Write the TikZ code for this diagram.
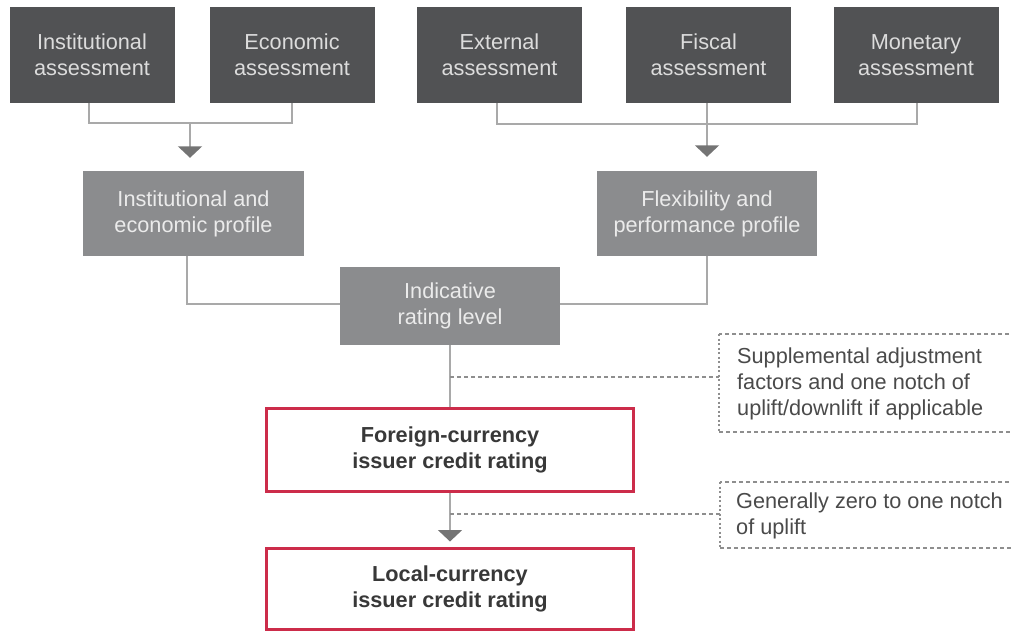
\documentclass[tikz,border=0pt]{standalone}
\usepackage{fontspec}
\setmainfont{Liberation Sans}
\usetikzlibrary{arrows.meta}
\definecolor{darkbox}{HTML}{515254}
\definecolor{midbox}{HTML}{8B8C8E}
\definecolor{darktext}{HTML}{DCDCDC}
\definecolor{midtext}{HTML}{EBEBEB}
\definecolor{connc}{HTML}{A9A9A9}
\definecolor{arrowc}{HTML}{747474}
\definecolor{redc}{HTML}{CC2C4A}
\definecolor{notetext}{HTML}{4A4A4A}
\definecolor{boldtext}{HTML}{383838}
\definecolor{dashc}{HTML}{8E8E8E}
\tikzset{
  txt/.style={font=\fontsize{21.7}{26}\selectfont, align=center, inner sep=0pt},
  darkn/.style={txt, fill=darkbox, text=darktext, minimum width=165pt, minimum height=96pt},
  midn/.style={txt, fill=midbox, text=midtext, minimum height=85pt},
  redn/.style={txt, draw=redc, line width=3pt, fill=white, text=boldtext, font=\fontsize{21.7}{26}\selectfont\bfseries, minimum width=367pt},
  noten/.style={txt, align=left, text=notetext, anchor=west},
  conn/.style={draw=connc, line width=2pt},
  arr/.style={-{Triangle[width=24pt,length=11.5pt,color=arrowc]}},
  dashline/.style={draw=dashc, line width=1.4pt, dash pattern=on 4pt off 3pt},
  dotline/.style={draw=dashc, line width=1.4pt, dash pattern=on 2pt off 2.5pt},
}
\begin{document}
\begin{tikzpicture}[x=1pt,y=-1pt]
\useasboundingbox (0,0) rectangle (1012,632);
% top row
\node[darkn] (inst) at (92,55) {Institutional\\assessment};
\node[darkn] (econ) at (292,55) {Economic\\assessment};
\node[darkn] (ext)  at (499.5,55) {External\\assessment};
\node[darkn] (fisc) at (708.5,55) {Fiscal\\assessment};
\node[darkn] (mon)  at (916,55) {Monetary\\assessment};
% profiles
\node[midn, minimum width=221pt] (iep) at (193.5,213.5) {Institutional and\\economic profile};
\node[midn, minimum width=220pt] (fpp) at (707,213.5) {Flexibility and\\performance profile};
\node[midn, minimum width=220pt, minimum height=78pt] (irl) at (450,306) {Indicative\\rating level};
% ratings
\node[redn, minimum height=83pt] (fc) at (450,450) {Foreign-currency\\issuer credit rating};
\node[redn, minimum height=81pt] (lc) at (450,588.5) {Local-currency\\issuer credit rating};
% notes
\node[noten] (n1) at (737,384) {Supplemental adjustment\\factors and one notch of\\uplift/downlift if applicable};
\node[noten] (n2) at (736,516) {Generally zero to one notch\\of uplift};
% junction coordinates
\coordinate (ja) at (89,123);
\coordinate (jb) at (292,123);
\coordinate (jc) at (190,123);
\coordinate (jd) at (497,124);
\coordinate (je) at (917,124);
\coordinate (jf) at (707,124);
\coordinate (jg) at (187,304);
\coordinate (jh) at (707,304);
\coordinate (k1) at (450,377);
\coordinate (k2) at (450,514);
\coordinate (f1a) at (1016,334);
\coordinate (f1b) at (719,334);
\coordinate (f1c) at (719,432);
\coordinate (f1d) at (1016,432);
\coordinate (f2a) at (1016,482);
\coordinate (f2b) at (720,482);
\coordinate (f2c) at (720,548);
\coordinate (f2d) at (1016,548);
% connectors
\draw[conn] (inst.south -| ja) -- (ja) -- (jb) -- (econ.south -| jb);
\draw[conn, arr, shorten >=13pt] (jc) -- (iep.north -| jc);
\draw[conn] (ext.south -| jd) -- (jd) -- (je) -- (mon.south -| je);
\draw[conn, arr, shorten >=14pt] (fisc.south -| jf) -- (fpp.north -| jf);
\draw[conn] (iep.south -| jg) -- (jg) -- (jg -| irl.west);
\draw[conn] (fpp.south -| jh) -- (jh) -- (jh -| irl.east);
\draw[conn] (irl.south) -- (fc.north);
\draw[conn, arr, shorten >=5pt] (fc.south) -- (lc.north);
\draw[dashline] (k1) -- (k1 -| f1b);
\draw[dashline] (k2) -- (k2 -| f2b);
% note frames
\draw[dashline] (f1a) -- (f1b);
\draw[dotline] (f1b) -- (f1c);
\draw[dashline] (f1c) -- (f1d);
\draw[dashline] (f2a) -- (f2b);
\draw[dotline] (f2b) -- (f2c);
\draw[dashline] (f2c) -- (f2d);
\end{tikzpicture}
\end{document}
